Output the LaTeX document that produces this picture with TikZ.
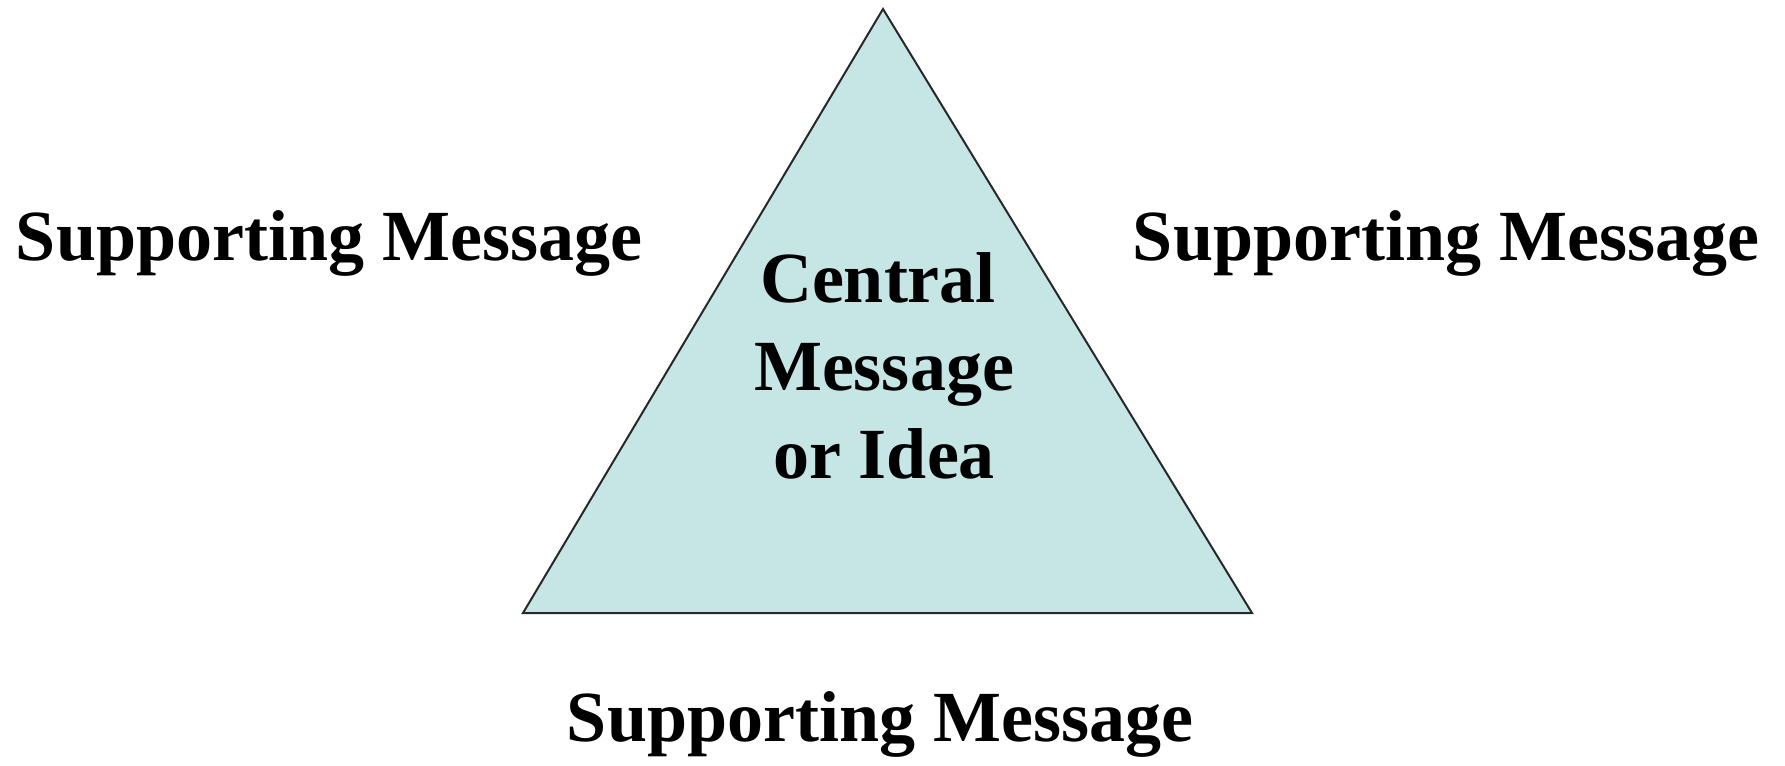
\documentclass[tikz,border=0pt]{standalone}
\usepackage{fontspec}
\setmainfont{Liberation Serif}
\definecolor{trifill}{RGB}{198,229,229}
\definecolor{triline}{RGB}{40,40,40}
\tikzset{
  lbl/.style={font=\fontsize{36}{44}\selectfont\bfseries, inner sep=0pt, anchor=base},
  tri/.style={fill=trifill, draw=triline, line width=1pt, line join=miter}
}
\begin{document}
\begin{tikzpicture}[x=0.5pt,y=-0.5pt]
\useasboundingbox (0,0) rectangle (1785,766);
\coordinate (apex) at (883,9);
\coordinate (bl) at (523,613);
\coordinate (br) at (1252,613);
\draw[tri] (apex) -- (br) -- (bl) -- cycle;
\node[lbl] (left) at (329,260) {Supporting Message};
\node[lbl] (right) at (1446,260) {Supporting Message};
\node[lbl] (bottom) at (880,741) {Supporting Message};
\node[lbl] (c1) at (878,302) {Central};
\node[lbl] (c2) at (884,390) {Message};
\node[lbl] (c3) at (884,478) {or Idea};
\end{tikzpicture}
\end{document}
